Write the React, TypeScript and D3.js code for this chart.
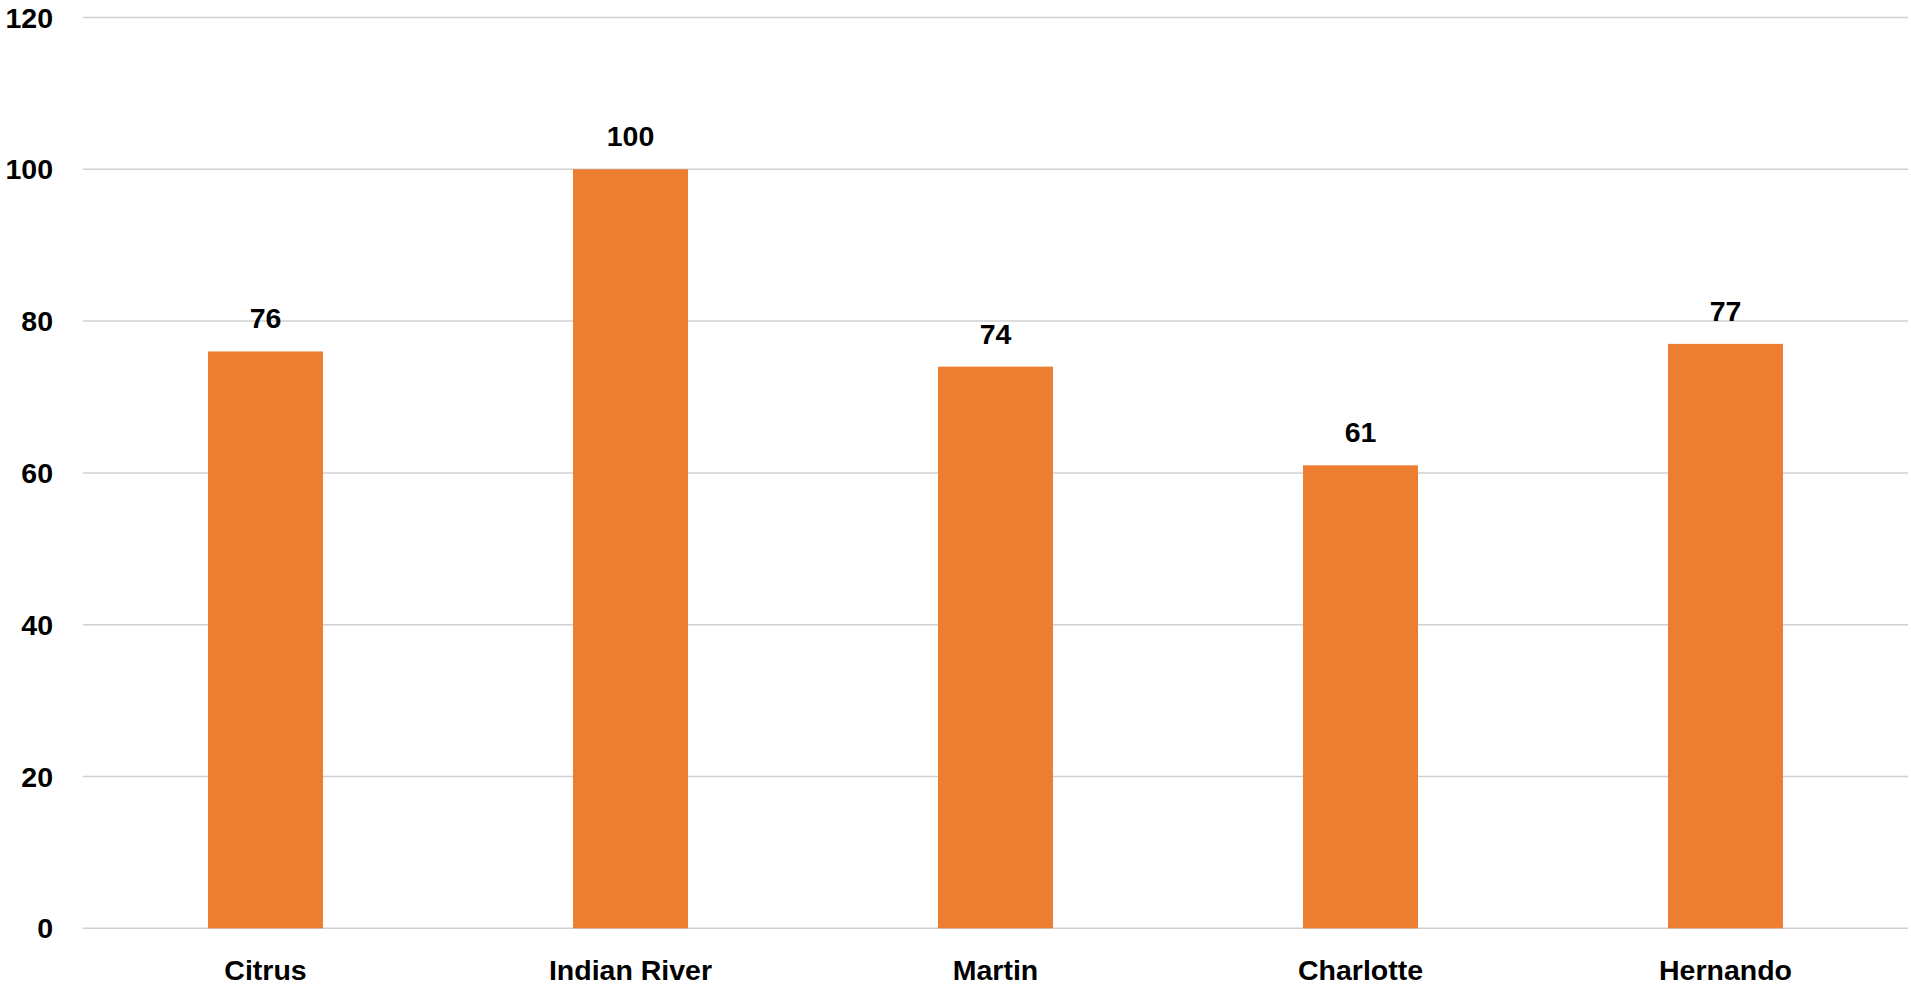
import React from "react";
import * as d3 from "d3";

const categories = ["Citrus", "Indian River", "Martin", "Charlotte", "Hernando"];
const values = [76, 100, 74, 61, 77];
const yTicks = [0, 20, 40, 60, 80, 100, 120];

const W = 1911;
const H = 990;
const left = 83;
const right = 1908;
const top = 17.5;
const bottom = 928.3;
const FONT = "'Liberation Sans', Arial, sans-serif";

export default function App() {
  const x = d3.scaleBand<string>().domain(categories).range([left, right]).paddingInner(0.685).paddingOuter(0.3425);
  const y = d3.scaleLinear().domain([0, 120]).range([bottom, top]);
  return (
    <svg width={W} height={H} style={{ position: "absolute", left: 0, top: 0, background: "#fff" }}>
      {yTicks.map((t) => (
        <g key={t}>
          <line x1={left} x2={right} y1={y(t)} y2={y(t)} stroke="#d0d0d0" strokeWidth={1.5} />
          <text x={53} y={y(t) + 10} textAnchor="end" fontFamily={FONT} fontWeight="bold" fontSize={28.5} fill="#000">
            {t}
          </text>
        </g>
      ))}
      {categories.map((c, i) => (
        <g key={c}>
          <rect x={x(c)} y={y(values[i])} width={x.bandwidth()} height={bottom - y(values[i])} fill="#ED7D31" />
          <text x={(x(c) as number) + x.bandwidth() / 2} y={y(values[i]) - 23} textAnchor="middle" fontFamily={FONT} fontWeight="bold" fontSize={28.5} fill="#000">
            {values[i]}
          </text>
          <text x={(x(c) as number) + x.bandwidth() / 2} y={980} textAnchor="middle" fontFamily={FONT} fontWeight="bold" fontSize={28.5} fill="#000">
            {c}
          </text>
        </g>
      ))}
    </svg>
  );
}
